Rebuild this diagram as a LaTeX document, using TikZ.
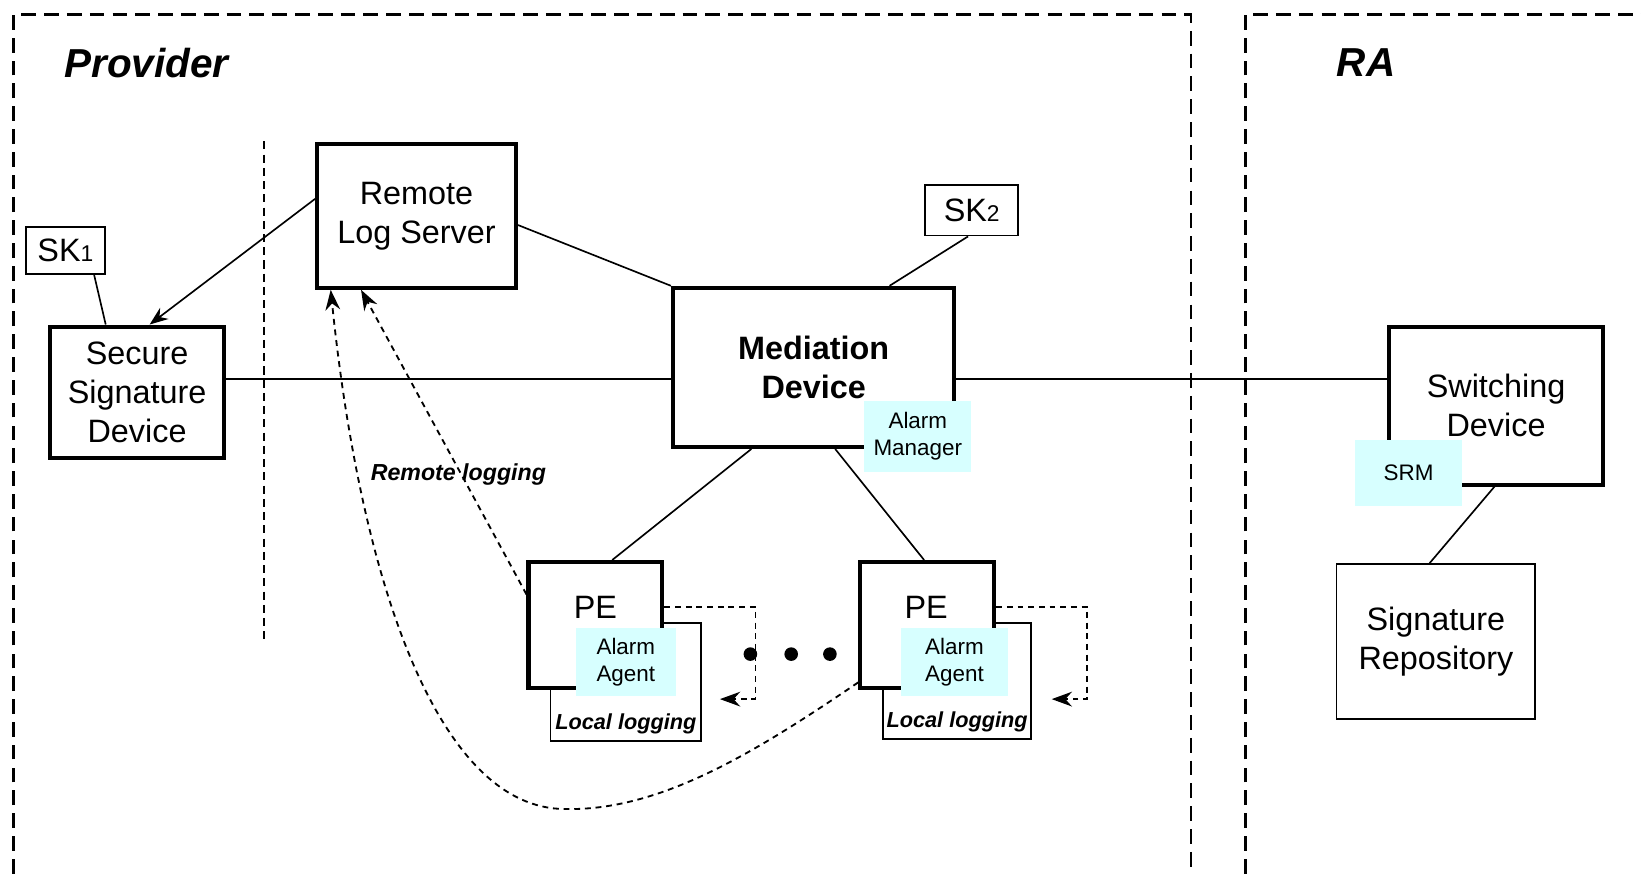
\documentclass[tikz,border=0pt]{standalone}
\usepackage{fontspec}
\setmainfont{Liberation Sans}
\definecolor{almcyan}{RGB}{215,255,255}
\usetikzlibrary{arrows.meta,positioning,calc}

\newcommand\dfont{\fontsize{8.8}{10.6}\selectfont}
\newcommand\afont{\fontsize{6.1}{7.4}\selectfont}
\newcommand\lfont{\fontsize{5.9}{7}\selectfont\bfseries\itshape}
\newcommand\subfs{\fontsize{6.2}{6}\selectfont}

\begin{document}
\begin{tikzpicture}[x=0.1mm,y=-0.1mm,
  dev/.style={draw,line width=1.1pt,fill=white,inner sep=0pt,align=center,font=\dfont},
  box/.style={draw,line width=0.5pt,fill=white,inner sep=0pt,align=center,font=\dfont},
  alm/.style={fill=almcyan,inner sep=0pt,align=center,font=\afont},
  lnk/.style={line width=0.45pt},
  rlog/.style={line width=0.5pt,dash pattern=on 1.6pt off 1.3pt,
    -{Stealth[length=5.5pt,width=4pt]}},
  self/.style={line width=0.45pt,dash pattern=on 1.6pt off 1.3pt,
    -{Stealth[length=5.5pt,width=4pt]}},
  zone/.style={line width=0.7pt,dash pattern=on 4pt off 2.2pt},
  sep/.style={line width=0.6pt,dash pattern=on 2.2pt off 1.4pt}
]
\useasboundingbox (0,0) rectangle (1568,835);
\clip (0,0) rectangle (1568,835);

% Domains
\draw[zone] (13,900) -- (13,14) -- (1138,14) -- (1138,900);
\draw[zone] (1190,900) -- (1190,14) -- (1600,14);
\node[anchor=west,font=\fontsize{11}{13}\selectfont\bfseries\itshape] (prov) at (49,60) {Provider};
\node[anchor=west,font=\fontsize{11}{13}\selectfont\bfseries\itshape] (ra) at (1265,60) {RA};
\draw[sep] (252,135) -- (252,612);

% Provider devices
\node[box,minimum width=7.5mm,minimum height=4.5mm] (sk1) at (62.5,239.5) {SK{\subfs 1}};
\node[dev,minimum width=16.6mm,minimum height=12.6mm] (ssd) at (131,375) {Secure\\Signature\\Device};
\node[dev,minimum width=19mm,minimum height=13.7mm] (rls) at (398,206.5) {Remote\\Log Server};
\node[box,minimum width=8.9mm,minimum height=4.8mm] (sk2) at (928.5,201) {SK{\subfs 2}};
\node[dev,minimum width=26.9mm,minimum height=15.2mm,font=\dfont\bfseries] (med) at (777.5,351) {Mediation\\Device};
\node[alm,minimum width=10.2mm,minimum height=6.8mm] (am) at (877,417) {Alarm\\Manager};

% PEs
\node[box,minimum width=14.4mm,minimum height=11.3mm,
  label={[anchor=south,inner sep=2pt,font=\lfont]south:Local logging}] (lg1) at (598,651.5) {};
\node[dev,minimum width=12.8mm,minimum height=12mm] (pe1) at (569,597) {};
\node[font=\dfont] (pe1t) at (569,580) {PE};
\node[alm,minimum width=9.6mm,minimum height=6.5mm] (ag1) at (598,632.5) {Alarm\\Agent};

\node[box,minimum width=14.1mm,minimum height=11.1mm,
  label={[anchor=south,inner sep=2pt,font=\lfont]south:Local logging}] (lg2) at (914.5,650.5) {};
\node[dev,minimum width=12.8mm,minimum height=12mm] (pe2) at (886,597) {};
\node[font=\dfont] (pe2t) at (885,580) {PE};
\node[alm,minimum width=10.2mm,minimum height=6.5mm] (ag2) at (912,632.5) {Alarm\\Agent};

% RA devices
\node[dev,minimum width=20.5mm,minimum height=15.1mm] (sw) at (1429.5,387.5) {Switching\\Device};
\node[alm,minimum width=10.2mm,minimum height=6.3mm] (srm) at (1346,451.5) {SRM};
\node[box,minimum width=19mm,minimum height=14.8mm] (repo) at (1372,613) {Signature\\Repository};

% Links
\draw[lnk,-{Stealth[length=5pt,width=3.8pt]}] ([yshift=1.65mm]rls.west) -- ([xshift=1.2mm]ssd.north);
\draw[lnk] ([xshift=2.75mm]sk1.south) -- ([xshift=-3mm]ssd.north);
\draw[lnk] ([yshift=1.3mm]ssd.east) -- ([yshift=1.3mm]ssd.east -| med.west);
\draw[lnk] ([yshift=-1.1mm]med.east) -- ([yshift=-1.1mm]med.east -| sw.west);
\draw[lnk] ([yshift=-0.85mm]rls.east) -- (med.north west);
\draw[lnk] ([xshift=-0.35mm]sk2.south) -- ([xshift=7.25mm]med.north);
\draw[lnk] ([xshift=-5.95mm]med.south) -- ([xshift=1.6mm]pe1.north);
\draw[lnk] ([xshift=2.05mm]med.south) -- ([xshift=-0.3mm]pe2.north);
\draw[lnk] ([xshift=-0.15mm]sw.south) -- ([xshift=-0.6mm]repo.north);

% Remote logging
\coordinate (dip) at (540,773);
\draw[rlog] ([yshift=2.9mm]pe1.west) -- ([xshift=-5.3mm]rls.south);
\draw[rlog] ([yshift=-5.5mm]pe2.west) .. controls (720,720) and (630,775) .. (dip)
  .. controls (420,773) and (345,560) .. ([xshift=-8.2mm]rls.south);
\node[font=\fontsize{6.3}{7}\selectfont\bfseries\itshape] (rtxt) at (438,453) {Remote logging};

% Local logging
\draw[self] ([yshift=1.7mm]pe1.east) -- ++(8.7mm,0) -- ++(0,-8.8mm) -- ++(-3.4mm,0);
\draw[self] ([yshift=1.7mm]pe2.east) -- ++(8.7mm,0) -- ++(0,-8.8mm) -- ++(-3.4mm,0);
\foreach \x in {717,756,793}
  \fill (\x,625) circle (0.65mm);
\end{tikzpicture}
\end{document}
